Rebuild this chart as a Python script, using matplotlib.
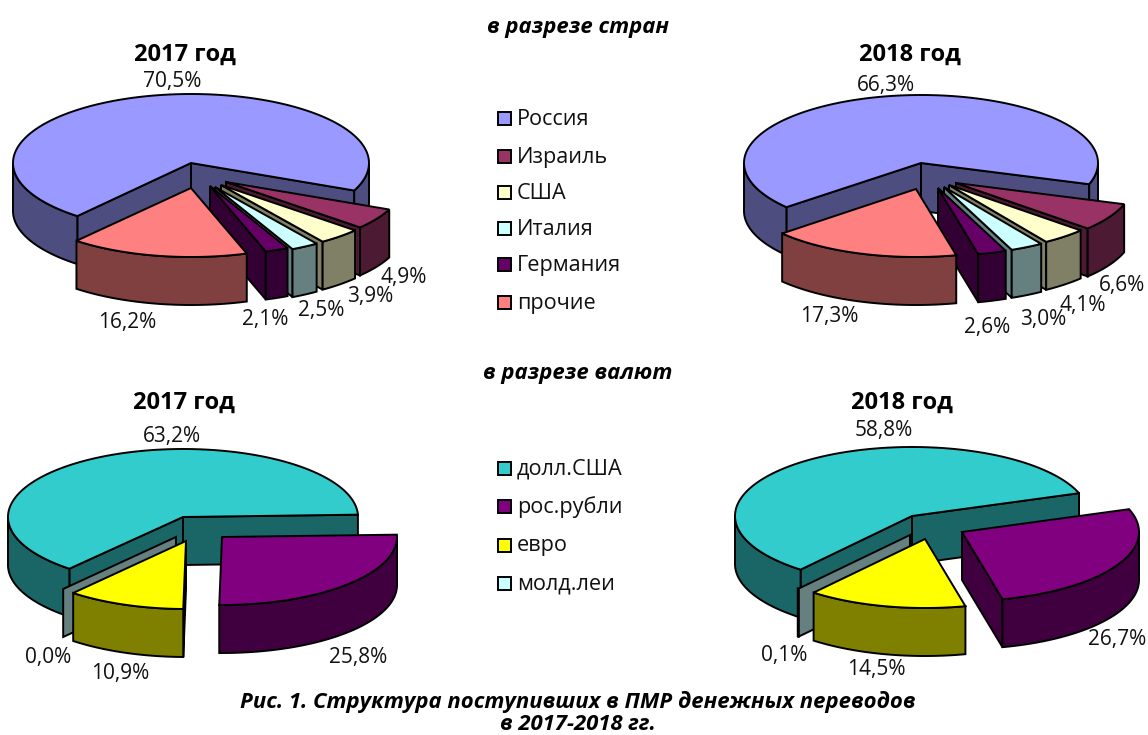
import numpy as np
import matplotlib
matplotlib.use("Agg")
import matplotlib.pyplot as plt
from matplotlib.patches import Polygon, Rectangle

plt.rcParams['font.family'] = ['Open Sans', 'DejaVu Sans']

# data
countries = ["Россия", "Израиль", "США", "Италия", "Германия", "прочие"]
countries_2017 = [70.5, 4.9, 3.9, 2.5, 2.1, 16.2]
countries_2018 = [66.3, 6.6, 4.1, 3.0, 2.6, 17.3]

currencies = ["долл.США", "рос.рубли", "евро", "молд.леи"]
currencies_2017 = [63.2, 25.8, 10.9, 0.0]
currencies_2018 = [58.8, 26.7, 14.5, 0.1]

# top colour, side colour
country_colors = ["#9999FF", "#993366", "#FFFFCC", "#CCFFFF", "#660066", "#FF8080"]
country_sides = ["#4D4D80", "#4D1A33", "#808066", "#668080", "#330033", "#804040"]
currency_colors = ["#33CCCC", "#800080", "#FFFF00", "#CCFFFF"]
currency_sides = ["#1A6666", "#400040", "#808000", "#668080"]

DEPTH = 48
LW = 1.4

fig = plt.figure(figsize=(11.48, 7.35), dpi=100)
ax = fig.add_axes([0, 0, 1, 1])
ax.set_xlim(0, 1148)
ax.set_ylim(735, 0)
ax.axis("off")


def rim(cx, cy, rx, ry, deg):
    a = np.radians(deg)
    return cx + rx * np.cos(a), cy - ry * np.sin(a)


def draw_slice(cx, cy, rx, ry, t1, t2, off, color, side):
    # t1 < t2, angle counted counter-clockwise on the flattened circle
    cx = cx + off[0]
    cy = cy + off[1]
    down = np.array([0, DEPTH])

    def wall(a):
        p = np.array(rim(cx, cy, rx, ry, a))
        c = np.array([cx, cy])
        ax.add_patch(Polygon([c, p, p + down, c + down], fc=side, ec="black", lw=LW))

    if np.cos(np.radians(t1)) > 0:
        wall(t1)
    if np.cos(np.radians(t2)) < 0:
        wall(t2)

    # outer wall, only the part facing the viewer
    for k in (-360, 0, 360):
        lo = max(t1, k - 180)
        hi = min(t2, k)
        if hi > lo:
            a = np.linspace(lo, hi, 60)
            x, y = rim(cx, cy, rx, ry, a)
            pts = np.r_[np.c_[x, y], np.c_[x, y + DEPTH][::-1]]
            ax.add_patch(Polygon(pts, fc=side, ec="black", lw=LW))

    if t2 - t1 > 1:
        a = np.linspace(t1, t2, 150)
        x, y = rim(cx, cy, rx, ry, a)
        pts = np.r_[[[cx, cy]], np.c_[x, y]]
        ax.add_patch(Polygon(pts, fc=color, ec="black", lw=LW))


def pie3d(values, colors, sides, cx, cy, rx, ry, start, offsets, order, label_pos):
    # slices go clockwise from start, like in Excel
    angles = start - np.r_[0, np.cumsum(values)] * 3.6
    for i in order:
        draw_slice(cx, cy, rx, ry, angles[i + 1], angles[i], offsets[i], colors[i], sides[i])
    for v, pos in zip(values, label_pos):
        ax.text(pos[0], pos[1], f"{v:.1f}%".replace(".", ","), fontsize=15,
                ha="center", va="center", color="#111111")


pie3d(countries_2017, country_colors, country_sides, 191, 163, 178, 69, 230.3,
      [(0, 0), (35, 19), (30, 22), (24, 24), (19, 23), (0, 25)],
      [0, 1, 2, 3, 4, 5],
      [(172, 81), (404, 277), (370, 296), (321, 310), (265, 319), (127, 322)])

pie3d(countries_2018, country_colors, country_sides, 921, 163, 177, 68, 220.5,
      [(0, 0), (35, 20), (28, 22), (23, 24), (17, 25), (-5, 26)],
      [0, 1, 2, 3, 4, 5],
      [(886, 85), (1122, 285), (1083, 305), (1043, 319), (987, 327), (829, 316)])

pie3d(currencies_2017, currency_colors, currency_sides, 183, 517, 175, 68, 229.5,
      [(0, 0), (39, 20), (3, 24), (-7, 20)],
      [0, 3, 1, 2],
      [(172, 436), (358, 657), (120, 673), (48, 657)])

pie3d(currencies_2018, currency_colors, currency_sides, 912, 516, 177, 69, 231,
      [(0, 0), (50, 16), (13, 23), (-2, 19)],
      [0, 3, 1, 2],
      [(884, 430), (1117, 639), (876, 670), (784, 655)])


def legend(names, colors, ys):
    for name, c, y in zip(names, colors, ys):
        ax.add_patch(Rectangle((497.5, y - 6.5), 13, 13, fc=c, ec="black", lw=LW))
        ax.text(517, y + 1, name, fontsize=15.6, ha="left", va="center", color="#111111")


legend(countries, country_colors, [118, 156, 192, 228, 264, 302])
legend(currencies, currency_colors, [468, 506, 545, 583])

for x, y, s in [(185, 55, "2017 год"), (910, 55, "2018 год"),
                (184, 403, "2017 год"), (902, 403, "2018 год")]:
    ax.text(x, y, s, fontsize=17, fontweight="bold", ha="center", va="center")

for y, s in [(27, "в разрезе стран"), (373, "в разрезе валют"),
             (702, "Рис. 1. Структура поступивших в ПМР денежных переводов"),
             (725, "в 2017-2018 гг.")]:
    ax.text(578, y, s, fontsize=15.9, fontweight="bold", fontstyle="italic",
            ha="center", va="center")

plt.savefig("out.png", dpi=100)
